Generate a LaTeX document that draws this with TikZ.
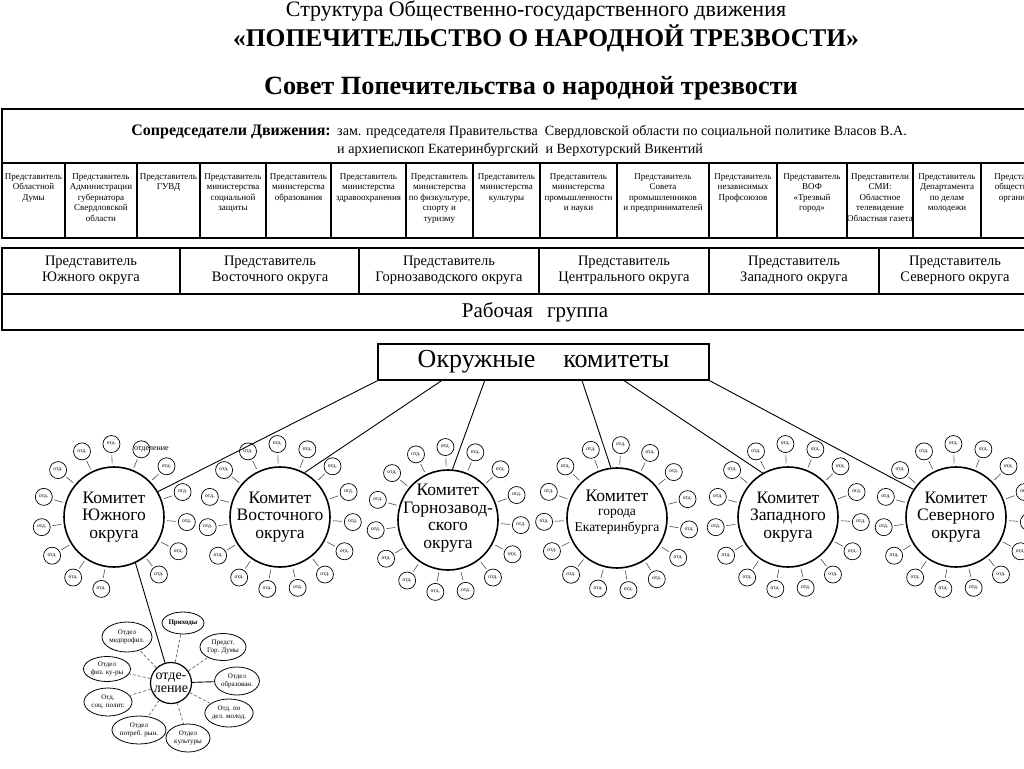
\documentclass[tikz,border=0pt]{standalone}
\usepackage{fontspec}
\setmainfont{Liberation Serif}
\usetikzlibrary{shapes.geometric,calc}
% ring of small "отд." circles round a committee
\newcommand{\otdring}[6]{%
  \foreach \k in {0,...,14}{%
    \ifnum\k=#5\relax\else
      \pgfmathsetmacro\ang{#4+24*\k}%
      \ifnum\k=#6\relax
        \node[otd] (#1-\k) at ({#2+73*cos(\ang)},{#3-73*sin(\ang)}) {};
      \else
        \node[otd] (#1-\k) at ({#2+73*cos(\ang)},{#3-73*sin(\ang)}) {отд.};
      \fi
      \draw[spoke] (#1) -- (#1-\k);
    \fi}}
\begin{document}
\begin{tikzpicture}[x=1pt,y=-1pt,
  tframe/.style={line width=1.8pt},
  tdiv/.style={line width=1.3pt},
  rep/.style={font=\fontsize{9}{10.5}\selectfont, align=center, anchor=north, inner sep=0pt},
  dist/.style={font=\fontsize{14.5}{16}\selectfont, align=center, inner sep=0pt},
  kom/.style={circle, draw, line width=1.6pt, minimum size=100pt, inner sep=0pt},
  komtxt/.style={font=\fontsize{17.5}{17.5}\selectfont, align=center, inner sep=0pt},
  otd/.style={circle, draw, line width=0.7pt, minimum size=17pt, inner sep=0pt, font=\fontsize{5.5}{5.5}\selectfont},
  spoke/.style={line width=0.6pt, black!70, shorten <=2.5pt, shorten >=2pt},
  link/.style={line width=0.9pt},
  ell/.style={ellipse, draw, line width=0.8pt, inner sep=0pt, align=center, font=\fontsize{7}{7.5}\selectfont},
  sub/.style={line width=0.7pt, black!60, densely dashed}
]
\useasboundingbox (0,0) rectangle (1024,768);
\clip (0,0) rectangle (1024,768);

% titles
\node[font=\fontsize{22}{24}\selectfont] (t1) at (536,11) {Структура Общественно-государственного движения};
\node[font=\bfseries\fontsize{25.5}{28}\selectfont] (t2) at (546,38) {«ПОПЕЧИТЕЛЬСТВО О НАРОДНОЙ ТРЕЗВОСТИ»};
\node[font=\bfseries\fontsize{26.3}{28}\selectfont] (t3) at (531,88) {Совет Попечительства о народной трезвости};

% council table
\draw[tframe] (2,109) rectangle (1040,238);
\draw[tdiv] (2,163) -- (1040,163);
\foreach \x in {65,137,200,266,331,406,473,540,617,709,777,847,913,981}
  \draw[tdiv] (\x,163) -- (\x,238);

\node[font=\bfseries\fontsize{16}{18}\selectfont, anchor=base east, inner sep=0pt] (cochair) at (331,135) {Сопредседатели Движения:};
\node[font=\fontsize{14.1}{18}\selectfont, anchor=north west, align=left, inner sep=0pt] (cochairs) at (337,125)
  {зам. председателя Правительства\ \ Свердловской области по социальной политике Власов В.А.\\и архиепископ Екатеринбургский\ \ и Верхотурский Викентий};

\node[rep] (r1) at (33.5,173) {Представитель\\Областной\\Думы};
\node[rep] (r2) at (101,173) {Представитель\\Администрации\\губернатора\\Свердловской\\области};
\node[rep] (r3) at (168.5,173) {Представитель\\ГУВД};
\node[rep] (r4) at (233,173) {Представитель\\министерства\\социальной\\защиты};
\node[rep] (r5) at (298.5,173) {Представитель\\министерства\\образования};
\node[rep] (r6) at (368.5,173) {Представитель\\министерства\\здравоохранения};
\node[rep] (r7) at (439.5,173) {Представитель\\министерства\\по физкультуре,\\спорту и\\туризму};
\node[rep] (r8) at (506.5,173) {Представитель\\министерства\\культуры};
\node[rep] (r9) at (578.5,173) {Представитель\\министерства\\промышленности\\и науки};
\node[rep] (r10) at (663,173) {Представитель\\Совета\\промышленников\\и предпринимателей};
\node[rep] (r11) at (743,173) {Представитель\\независимых\\Профсоюзов};
\node[rep] (r12) at (812,173) {Представитель\\ВОФ\\«Трезвый\\город»};
\node[rep] (r13) at (880,173) {Представители\\СМИ:\\Областное\\телевидение\\Областная газета};
\node[rep] (r14) at (947,173) {Представитель\\Департамента\\по делам\\молодежи};
\node[rep] (r15) at (1023,173) {Представитель\\общественных\\организаций};

% districts + working group
\draw[tframe] (2,248) rectangle (1040,330);
\draw[tdiv] (2,294) -- (1040,294);
\foreach \x in {180,359,539,709,879}
  \draw[tdiv] (\x,248) -- (\x,294);
\node[dist] (d1) at (91,270) {Представитель\\Южного округа};
\node[dist] (d2) at (270,270) {Представитель\\Восточного округа};
\node[dist] (d3) at (449,270) {Представитель\\Горнозаводского округа};
\node[dist] (d4) at (624,270) {Представитель\\Центрального округа};
\node[dist] (d5) at (794,270) {Представитель\\Западного округа};
\node[dist] (d6) at (955,270) {Представитель\\Северного округа};
\node[font=\fontsize{21}{24}\selectfont] (wg) at (535,312) {Рабочая\hspace{14pt}группа};

% district committees
\node[draw, line width=1.5pt, minimum width=331pt, minimum height=36pt, inner sep=0pt,
      font=\fontsize{26}{28}\selectfont] (okr) at (543.5,362) {Окружные\hspace{28pt}комитеты\hspace{22pt}};

\node[kom] (ju) at (114,517) {};
\node[kom] (vo) at (280,517) {};
\node[kom] (go) at (448,520) {};
\node[kom] (ek) at (617,518) {};
\node[kom] (za) at (788,517) {};
\node[kom] (se) at (956,517) {};

\node[komtxt] (ju-t) at (114,517) {Комитет\\Южного\\округа};
\node[komtxt] (vo-t) at (280,517) {Комитет\\Восточного\\округа};
\node[komtxt] (go-t) at (448,518) {Комитет\\Горнозавод-\\ского\\округа};
\node[font=\fontsize{17.5}{17.5}\selectfont, anchor=base, inner sep=0pt] (ek-t1) at (617,501) {Комитет};
\node[font=\fontsize{13.5}{15}\selectfont, anchor=base, inner sep=0pt] (ek-t2) at (617,515) {города};
\node[font=\fontsize{13.5}{15}\selectfont, anchor=base, inner sep=0pt] (ek-t3) at (617,531) {Екатеринбурга};
\node[komtxt] (za-t) at (788,517) {Комитет\\Западного\\округа};
\node[komtxt] (se-t) at (956,517) {Комитет\\Северного\\округа};

\draw[link] (okr.south west) -- (ju.30);
\draw[link] ($(okr.south west)!0.193!(okr.south east)$) -- (vo.61);
\draw[link] ($(okr.south west)!0.323!(okr.south east)$) -- (go.85);
\draw[link] ($(okr.south west)!0.616!(okr.south east)$) -- (ek.97);
\draw[link] ($(okr.south west)!0.743!(okr.south east)$) -- (za.120);
\draw[link] (okr.south east) -- (se.147);

\otdring{ju}{114}{517}{20}{11}{2}
\otdring{vo}{280}{517}{20}{-1}{-1}
\otdring{go}{448}{520}{20}{-1}{-1}
\otdring{ek}{617}{518}{15}{-1}{-1}
\otdring{za}{788}{517}{20}{-1}{-1}
\otdring{se}{956}{517}{20}{-1}{-1}
\node[font=\fontsize{8}{8}\selectfont, anchor=west, inner sep=0pt] (ju-lab) at ($(ju-2.west)+(1.5,0)$) {отделение};

% department cluster
\node[circle, draw, line width=1.2pt, minimum size=41pt, inner sep=0pt] (otdc) at (171,683) {};
\node[font=\fontsize{14}{13.5}\selectfont, align=center, inner sep=0pt] (otdc-t) at (171,683) {отде-\\ление};
\draw[link] (ju.-65) -- (otdc);

\node[ell, minimum width=42pt, minimum height=22pt, font=\bfseries\fontsize{7}{7.5}\selectfont] (pri) at (183,623) {Приходы};
\node[ell, minimum width=46pt, minimum height=27pt] (duma) at (223,647) {Предст.\\Гор. Думы};
\node[ell, minimum width=42pt, minimum height=28pt] (obr) at (237,681) {Отдел\\образован.};
\node[ell, minimum width=47pt, minimum height=28pt] (mol) at (229,713) {Отд. по\\дел. молод.};
\node[ell, minimum width=44pt, minimum height=28pt] (kult) at (188,738) {Отдел\\культуры};
\node[ell, minimum width=47pt, minimum height=28pt] (potr) at (139,730) {Отдел\\потреб. рын.};
\node[ell, minimum width=48pt, minimum height=28pt] (soc) at (108,702) {Отд.\\соц. полит.};
\node[ell, minimum width=47pt, minimum height=25pt] (fiz) at (107,669) {Отдел\\физ. ку-ры};
\node[ell, minimum width=50pt, minimum height=30pt] (med) at (127,637) {Отдел\\медпрофил.};

\foreach \e in {pri,duma,mol,kult,potr,soc,fiz,med}
  \draw[sub] (otdc) -- (\e);
\draw[link] (otdc) -- (obr);
\end{tikzpicture}
\end{document}
